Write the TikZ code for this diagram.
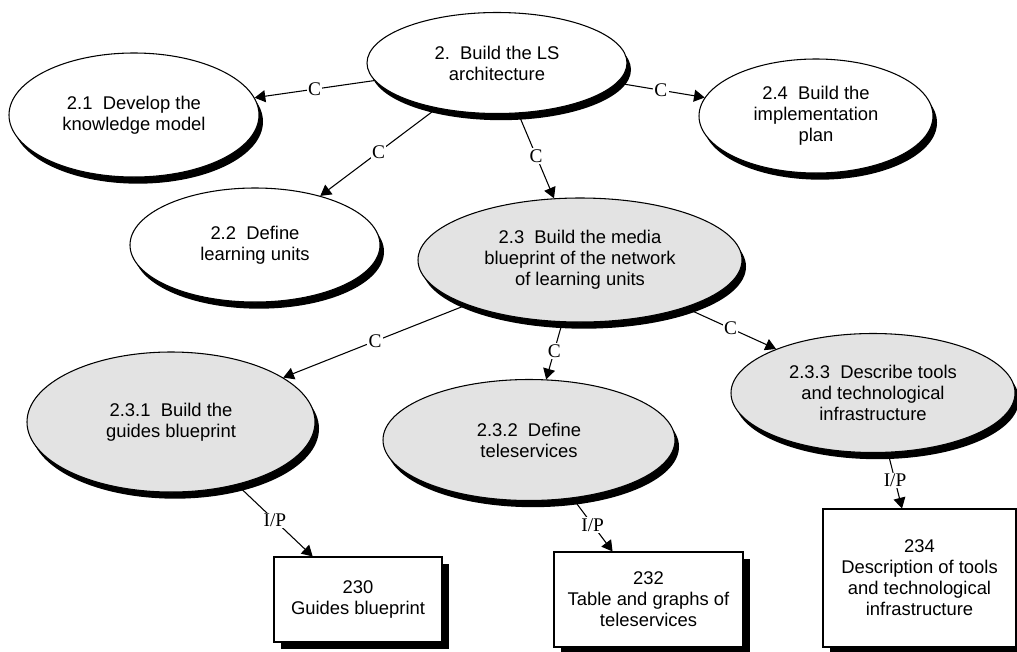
\documentclass[tikz,border=0pt]{standalone}
\usepackage{fontspec}
\setmainfont{Liberation Sans}
\newfontfamily\lblfont{Liberation Serif}
\usetikzlibrary{shapes.geometric,shadows,arrows.meta}

\begin{document}
\begin{tikzpicture}[x=0.75pt,y=-0.75pt,
  task/.style={ellipse, draw=black, line width=0.8pt, fill=white, inner sep=0pt,
    align=center, font=\fontsize{13.8}{15.75}\selectfont,
    drop shadow={shadow xshift=3pt, shadow yshift=-5pt, fill=black, opacity=1}},
  subtask/.style={task, fill=gray!22},
  product/.style={rectangle, draw=black, line width=0.8pt, fill=white, inner sep=0pt,
    align=center, font=\fontsize{13.8}{15.75}\selectfont,
    drop shadow={shadow xshift=5pt, shadow yshift=-5pt, fill=black, opacity=1}},
  link/.style={draw=black, line width=0.8pt, -{Triangle[length=8pt,width=9pt]}},
  lbl/.style={fill=white, inner sep=1pt, font=\lblfont\fontsize{14.5}{16}\selectfont}
]
\useasboundingbox (0,0) rectangle (1017,651);

% tasks
\node[task, minimum width=195pt, minimum height=75.75pt] (n2) at (497,63)
  {2.\ \ Build the LS\\architecture};
\node[task, minimum width=187.5pt, minimum height=93pt] (n21) at (134,115)
  {2.1\ \ Develop the\\knowledge model};
\node[task, minimum width=187.5pt, minimum height=85.5pt] (n22) at (255,245)
  {2.2\ \ Define\\learning units};
\node[subtask, minimum width=243pt, minimum height=93pt] (n23) at (580,260)
  {2.3\ \ Build the media\\blueprint of the network\\of learning units};
\node[task, minimum width=175.5pt, minimum height=85.5pt] (n24) at (816,116)
  {2.4\ \ Build the\\implementation\\plan};
\node[subtask, minimum width=216pt, minimum height=105pt] (n231) at (171,422)
  {2.3.1\ \ Build the\\guides blueprint};
\node[subtask, minimum width=219pt, minimum height=90.75pt] (n232) at (529,440)
  {2.3.2\ \ Define\\teleservices};
\node[subtask, minimum width=213pt, minimum height=89.25pt] (n233) at (873,393)
  {2.3.3\ \ Describe tools\\and technological\\infrastructure};

% products
\node[product, minimum width=126pt, minimum height=63.75pt] (p230) at (358,599.5)
  {230\\Guides blueprint};
\node[product, minimum width=141.75pt, minimum height=71.25pt] (p232) at (648.5,599.5)
  {232\\Table and graphs of\\teleservices};
\node[product, minimum width=144.75pt, minimum height=103.5pt] (p234) at (919.5,578)
  {234\\Description of tools\\and technological\\infrastructure};

% composition links
\draw[link] (n2) -- node[lbl] {C} (n21);
\draw[link] (n2) -- node[lbl] {C} (n22);
\draw[link] (n2) -- node[lbl] {C} (n23);
\draw[link] (n2) -- node[lbl] {C} (n24);
\draw[link] (n23) -- node[lbl] {C} (n231);
\draw[link] (n23) -- node[lbl] {C} (n232);
\draw[link] (n23) -- node[lbl] {C} (n233);

% input/product links
\draw[link] (n231) -- node[lbl] {I/P} (p230);
\draw[link] (n232) -- node[lbl] {I/P} (p232);
\draw[link] (n233) -- node[lbl] {I/P} (p234);
\end{tikzpicture}
\end{document}
